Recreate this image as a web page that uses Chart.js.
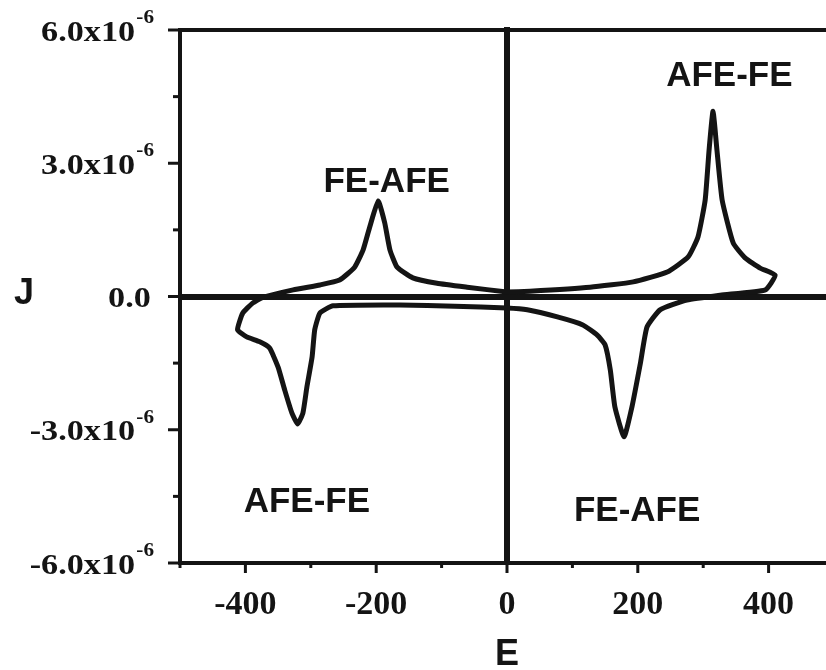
<!DOCTYPE html>
<html>
<head>
<meta charset="utf-8">
<script src="https://cdn.jsdelivr.net/npm/chart.js@4.4.1/dist/chart.umd.min.js"></script>
<style>
  html, body { margin: 0; padding: 0; background: #fff; overflow: hidden; }
  #wrap { width: 826px; height: 670px; overflow: hidden; }
</style>
</head>
<body>
<div id="wrap"><canvas id="loop" width="840" height="670"></canvas></div>
<script>
"use strict";

// J-E switching loop, traced in order: rising field, falling field, back up
var loopE = [0, 35, 127, 193, 245, 277, 292, 303, 309, 315, 321, 329, 346, 364, 387, 410,
    395, 326, 275, 234, 214, 204, 191, 179, 165, 158, 150, 138, 116, 77, 31, 0, -80, -164, -266,
    -286, -294, -298, -306, -312, -320, -329, -340, -350, -363, -378, -398, -412,
    -404, -389, -375, -327, -286, -256, -233, -220, -210, -197, -187, -179, -168, -144, -107, -61, 0];
// J in units of 1e-6
var loopJ = [0.10, 0.12, 0.21, 0.33, 0.55, 0.89, 1.34, 2.17, 3.30, 4.17, 3.30, 2.17, 1.20, 0.87, 0.64, 0.48,
    0.15, 0.03, -0.08, -0.30, -0.69, -1.50, -2.49, -3.16, -2.49, -1.66, -1.09, -0.87, -0.64, -0.46, -0.30, -0.26, -0.22, -0.19, -0.21,
    -0.37, -0.75, -1.36, -2.04, -2.62, -2.87, -2.62, -2.10, -1.59, -1.16, -1.02, -0.91, -0.75,
    -0.37, -0.15, -0.03, 0.15, 0.26, 0.37, 0.66, 1.05, 1.56, 2.15, 1.66, 1.05, 0.66, 0.42, 0.30, 0.21, 0.10];

var xLabelValues = [-400, -200, 0, 200, 400];
var yLabelValues = [6e-6, 3e-6, 0, -3e-6, -6e-6];
var yLabelText = ['6.0x10', '3.0x10', '0.0', '-3.0x10', '-6.0x10'];
var yLabelExp = ['-6', '-6', '', '-6', '-6'];

var phaseText = ['AFE-FE', 'FE-AFE', 'AFE-FE', 'FE-AFE'];
var phaseE = [340, -184, -306, 199];
var phaseJ = [5.02e-6, 2.63e-6, -4.58e-6, -4.78e-6];

var ink = '#141414';
var points = loopE.map(function(e, i) { return { x: e, y: loopJ[i] * 1e-6 }; });

var isZero = function(v) { return Math.abs(v) < 1e-12; };

var framePlugin = {
    id: 'frame',
    afterDraw: function(chart) {
        var ctx = chart.ctx;
        var area = chart.chartArea;
        var xs = chart.scales.x, ys = chart.scales.y;
        ctx.save();
        ctx.strokeStyle = ink;
        ctx.fillStyle = ink;

        // top edge
        ctx.lineWidth = 4;
        ctx.beginPath();
        ctx.moveTo(area.left, area.top);
        ctx.lineTo(area.right + 10, area.top);
        ctx.stroke();

        // zero field line pokes just above the frame
        ctx.lineWidth = 6;
        ctx.beginPath();
        ctx.moveTo(xs.getPixelForValue(0), area.top - 3);
        ctx.lineTo(xs.getPixelForValue(0), area.top + 2);
        ctx.stroke();

        // outward ticks, long on labelled values
        ctx.lineWidth = 3;
        ys.ticks.forEach(function(t) {
            var py = ys.getPixelForValue(t.value);
            var major = Math.round(t.value / 1.5e-6) % 2 === 0;
            ctx.beginPath();
            ctx.moveTo(area.left - (major ? 12 : 7), py);
            ctx.lineTo(area.left, py);
            ctx.stroke();
        });
        xs.ticks.forEach(function(t) {
            var px = xs.getPixelForValue(t.value);
            var major = Math.round(t.value) % 200 === 0;
            ctx.beginPath();
            ctx.moveTo(px, area.bottom);
            ctx.lineTo(px, area.bottom + (major ? 10 : 5));
            ctx.stroke();
        });

        // y labels with raised exponent
        ctx.textAlign = 'right';
        ctx.textBaseline = 'alphabetic';
        yLabelValues.forEach(function(v, i) {
            var py = ys.getPixelForValue(v);
            ctx.save();
            ctx.translate(yLabelExp[i] ? 154 : 152, py);
            ctx.scale(1.18, 1);
            var supW = 0;
            if (yLabelExp[i]) {
                ctx.font = 'bold 18px "Liberation Serif"';
                supW = ctx.measureText(yLabelExp[i]).width;
                ctx.fillText(yLabelExp[i], 0, -7);
            }
            ctx.font = 'bold 29px "Liberation Serif"';
            ctx.fillText(yLabelText[i], -supW - 1, 10.5);
            ctx.restore();
        });

        // transition labels
        ctx.textAlign = 'center';
        ctx.font = 'bold 35px "Liberation Sans"';
        phaseText.forEach(function(txt, i) {
            ctx.fillText(txt, xs.getPixelForValue(phaseE[i]), ys.getPixelForValue(phaseJ[i]) + 12.5);
        });

        // axis names
        ctx.font = 'bold 36px "Liberation Sans"';
        ctx.fillText('J', 24, 304);
        ctx.fillText('E', xs.getPixelForValue(0), 665);
        ctx.restore();
    }
};

new Chart(document.getElementById('loop'), {
    type: 'scatter',
    data: {
        datasets: [{
            data: points,
            showLine: true,
            borderColor: ink,
            borderWidth: 5,
            borderJoinStyle: 'round',
            borderCapStyle: 'round',
            pointRadius: 0,
            tension: 0.15
        }]
    },
    options: {
        responsive: false,
        animation: false,
        devicePixelRatio: 1,
        layout: { padding: { left: 0, top: 30, right: 6, bottom: 0 } },
        plugins: { legend: { display: false }, tooltip: { enabled: false } },
        scales: {
            x: {
                type: 'linear',
                min: -500,
                max: 500,
                afterFit: function(s) {
                    s.height = 107;
                    s.paddingLeft = 0;
                    s.paddingRight = 0;
                },
                border: { display: true, color: ink, width: 4 },
                grid: {
                    drawTicks: false,
                    color: ink,
                    lineWidth: function(c) { return c.tick && isZero(c.tick.value) ? 6 : 0; }
                },
                ticks: {
                    stepSize: 100,
                    autoSkip: false,
                    maxRotation: 0,
                    padding: 22,
                    color: ink,
                    font: { family: 'Liberation Serif', weight: 'bold', size: 34 },
                    callback: function(v) { return xLabelValues.indexOf(v) >= 0 ? String(v) : ''; }
                }
            },
            y: {
                type: 'linear',
                min: -6e-6,
                max: 6e-6,
                afterFit: function(s) {
                    s.width = 180;
                    s.paddingTop = 0;
                    s.paddingBottom = 0;
                },
                border: { display: true, color: ink, width: 4 },
                grid: {
                    drawTicks: false,
                    color: ink,
                    lineWidth: function(c) { return c.tick && isZero(c.tick.value) ? 6 : 0; }
                },
                ticks: { stepSize: 1.5e-6, display: false }
            }
        }
    },
    plugins: [framePlugin]
});
</script>
</body>
</html>
